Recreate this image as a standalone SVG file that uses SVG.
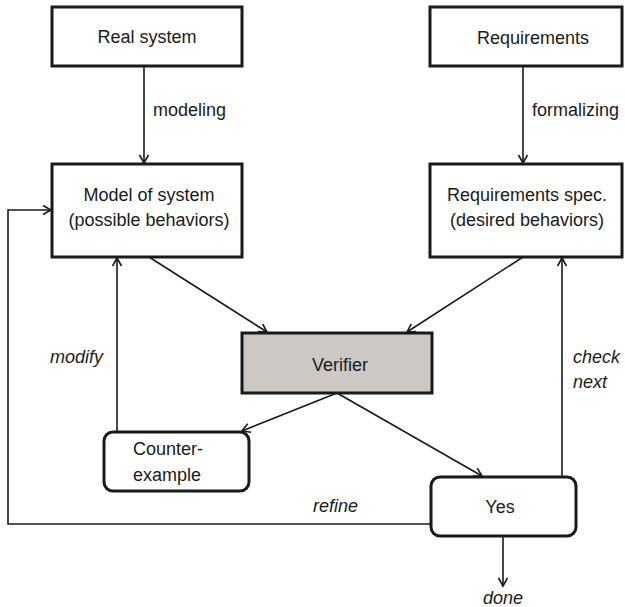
<svg xmlns="http://www.w3.org/2000/svg" width="625" height="607" viewBox="0 0 625 607">
<style>
.box{fill:#fff;stroke:#1a1a1a;stroke-width:3}
.ver{fill:#ccc8c4;stroke:#1a1a1a;stroke-width:3}
.t{font-family:"Liberation Sans",Arial,sans-serif;font-size:18px;fill:#1a1a1a}
.i{font-style:italic}
.c{stroke:#1a1a1a;stroke-width:1.6;fill:none}
</style>
<defs>
<marker id="ah" markerUnits="userSpaceOnUse" markerWidth="12" markerHeight="12" refX="9" refY="5" orient="auto">
<path d="M1,0.5 L9,5 L1,9.5" fill="none" stroke="#1a1a1a" stroke-width="1.6"/>
</marker>
</defs>
<rect width="625" height="607" fill="#fff"/>
<g id="connectors">
<line class="c" x1="144" y1="66" x2="144" y2="163" marker-end="url(#ah)"/>
<text class="t" x="153" y="116">modeling</text>
<line class="c" x1="523" y1="66" x2="523" y2="163" marker-end="url(#ah)"/>
<text class="t" x="532" y="116">formalizing</text>
<line class="c" x1="149" y1="257" x2="267" y2="332" marker-end="url(#ah)"/>
<line class="c" x1="523" y1="257" x2="407" y2="332" marker-end="url(#ah)"/>
<line class="c" x1="337" y1="393" x2="242" y2="431" marker-end="url(#ah)"/>
<line class="c" x1="337" y1="393" x2="482" y2="476" marker-end="url(#ah)"/>
<line class="c" x1="117" y1="432" x2="117" y2="258" marker-end="url(#ah)"/>
<text class="t i" x="50" y="363">modify</text>
<line class="c" x1="562" y1="477" x2="562" y2="258" marker-end="url(#ah)"/>
<text class="t i" x="573" y="363">check</text>
<text class="t i" x="573" y="388">next</text>
<polyline class="c" points="431,524 8,524 8,210 51,210" marker-end="url(#ah)"/>
<text class="t i" x="358" y="512" text-anchor="end">refine</text>
<line class="c" x1="503" y1="536" x2="503" y2="586" marker-end="url(#ah)"/>
<text class="t i" x="503" y="604" text-anchor="middle">done</text>
</g>
<g id="real-system">
<rect class="box" x="52" y="7" width="190" height="59"/>
<text class="t" x="147" y="43" text-anchor="middle">Real system</text>
</g>
<g id="requirements">
<rect class="box" x="430" y="7" width="192" height="59"/>
<text class="t" x="533" y="44" text-anchor="middle">Requirements</text>
</g>
<g id="model">
<rect class="box" x="52" y="164" width="190" height="93"/>
<text class="t" x="149" y="201" text-anchor="middle">Model of system</text>
<text class="t" x="149" y="226" text-anchor="middle">(possible behaviors)</text>
</g>
<g id="req-spec">
<rect class="box" x="430" y="164" width="192" height="93"/>
<text class="t" x="527" y="201" text-anchor="middle">Requirements spec.</text>
<text class="t" x="527" y="226" text-anchor="middle">(desired behaviors)</text>
</g>
<g id="verifier">
<rect class="ver" x="242" y="333" width="190" height="60"/>
<text class="t" x="340" y="371" text-anchor="middle">Verifier</text>
</g>
<g id="counterexample">
<rect class="box" x="104" y="432" width="145" height="59" rx="9"/>
<text class="t" x="133" y="455">Counter-</text>
<text class="t" x="133" y="481">example</text>
</g>
<g id="yes">
<rect class="box" x="431" y="477" width="145" height="59" rx="9"/>
<text class="t" x="500" y="513" text-anchor="middle">Yes</text>
</g>
</svg>
